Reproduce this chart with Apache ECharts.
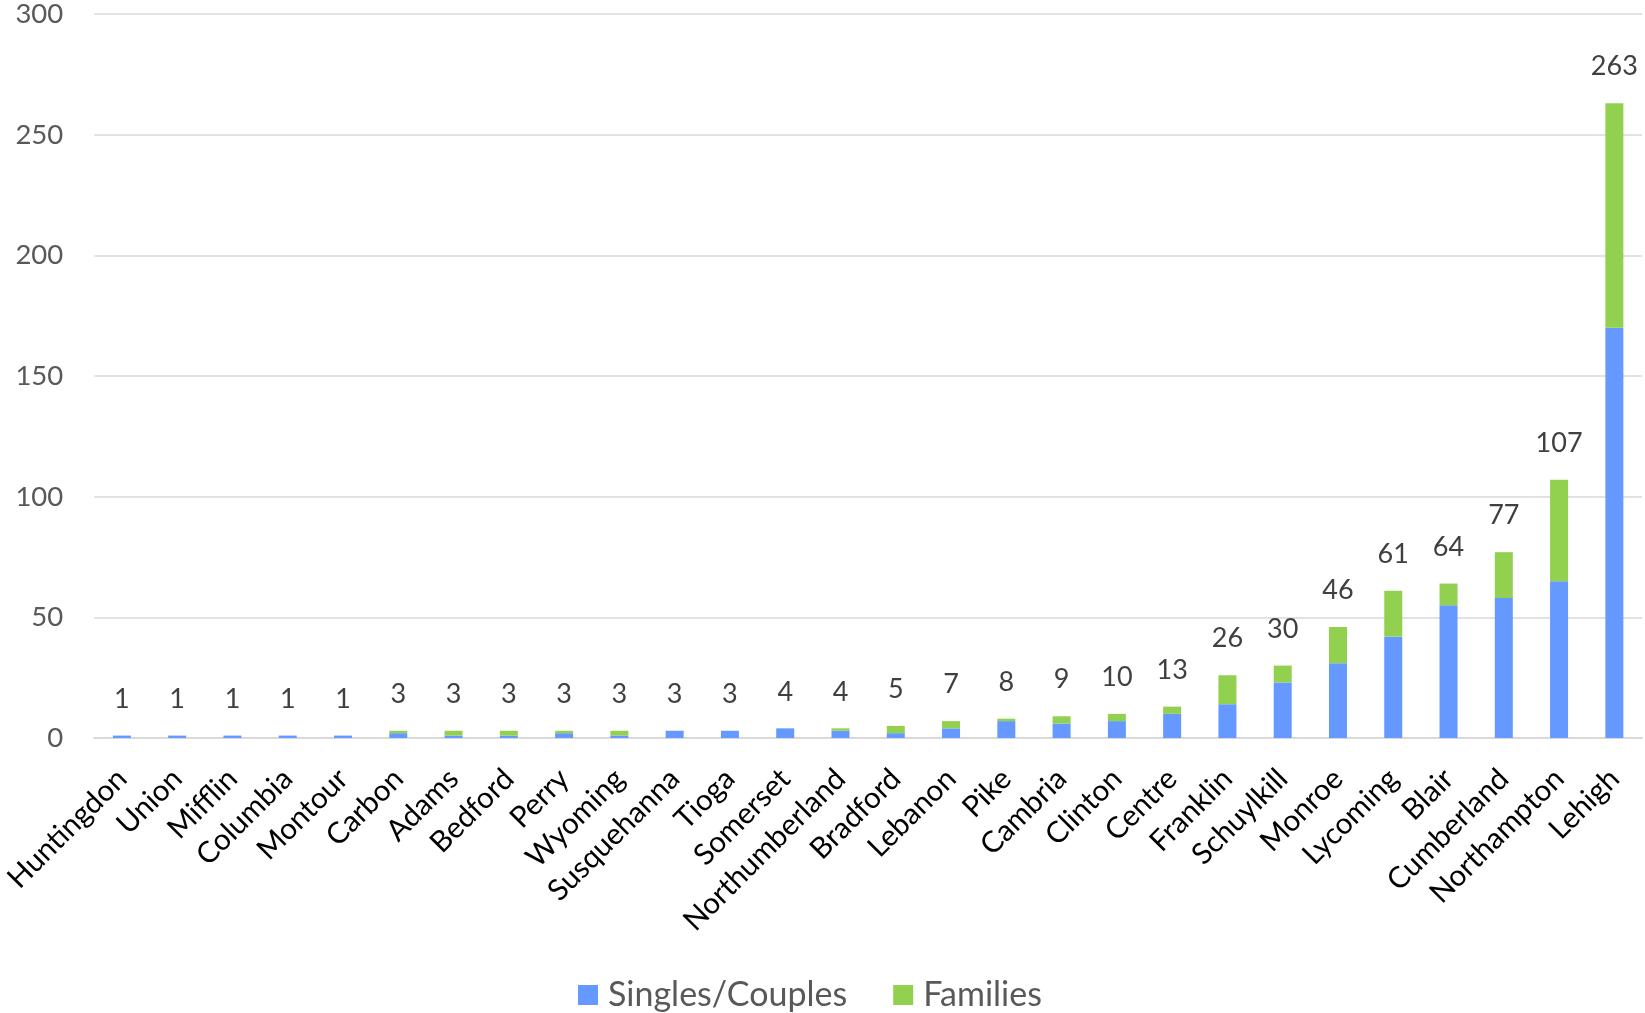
<!DOCTYPE html>
<html>
<head>
<meta charset="utf-8">
<title>Singles/Couples and Families by County</title>
<script src="https://cdn.jsdelivr.net/npm/echarts@6/dist/echarts.min.js"></script>
<style>
  html, body { margin: 0; padding: 0; background: #ffffff; }
  #chart { width: 1645px; height: 1013px; }
</style>
</head>
<body>
<div id="chart"></div>
<script>
// Counties, ordered from smallest to largest total
const counties = [
  'Huntingdon', 'Union', 'Mifflin', 'Columbia', 'Montour', 'Carbon', 'Adams',
  'Bedford', 'Perry', 'Wyoming', 'Susquehanna', 'Tioga', 'Somerset',
  'Northumberland', 'Bradford', 'Lebanon', 'Pike', 'Cambria', 'Clinton',
  'Centre', 'Franklin', 'Schuylkill', 'Monroe', 'Lycoming', 'Blair',
  'Cumberland', 'Northampton', 'Lehigh'
];

// Household counts per county
const singlesCouples = [1, 1, 1, 1, 1, 2, 1, 1, 2, 1, 3, 3, 4, 3, 2, 4, 7, 6, 7, 10, 14, 23, 31, 42, 55, 58, 65, 170];
const families       = [0, 0, 0, 0, 0, 1, 2, 2, 1, 2, 0, 0, 0, 1, 3, 3, 1, 3, 3, 3, 12, 7, 15, 19, 9, 19, 42, 93];

// Value axis ticks
const yTicks = [0, 50, 100, 150, 200, 250, 300];

const totals = singlesCouples.map((v, i) => v + families[i]);

const FONT = 'Lato, "Open Sans", sans-serif';

const chart = echarts.init(document.getElementById('chart'), null, { renderer: 'canvas' });

chart.setOption({
  animation: false,
  backgroundColor: '#ffffff',
  textStyle: { fontFamily: FONT },
  grid: { left: 93, right: 3, top: 14, bottom: 275, containLabel: false },
  legend: {
    data: ['Singles/Couples', 'Families'],
    top: 973,
    left: 573,
    itemWidth: 20,
    itemHeight: 20,
    itemGap: 46,
    icon: 'rect',
    textStyle: { fontSize: 34, color: '#595959', fontFamily: FONT, padding: [0, 0, 0, 5] }
  },
  xAxis: {
    type: 'category',
    data: counties,
    axisLine: { lineStyle: { color: '#d9d9d9', width: 2 } },
    axisTick: { show: false },
    axisLabel: {
      interval: 0,
      rotate: 45,
      margin: 36,
      fontSize: 29.5,
      color: '#000000',
      fontFamily: FONT
    }
  },
  yAxis: {
    type: 'value',
    min: yTicks[0],
    max: yTicks[yTicks.length - 1],
    interval: yTicks[1] - yTicks[0],
    axisLine: { show: false },
    axisTick: { show: false },
    splitLine: { lineStyle: { color: '#d9d9d9', width: 1.5 } },
    axisLabel: { fontSize: 27.5, color: '#595959', margin: 31, fontFamily: FONT }
  },
  series: [
    {
      name: 'Singles/Couples',
      type: 'bar',
      stack: 'households',
      barWidth: 18,
      data: singlesCouples,
      itemStyle: { color: '#6699ff' }
    },
    {
      name: 'Families',
      type: 'bar',
      stack: 'households',
      barWidth: 18,
      data: families,
      itemStyle: { color: '#92d050' },
      label: {
        show: true,
        position: 'top',
        distance: 23,
        fontSize: 27,
        color: '#404040',
        fontFamily: FONT,
        formatter: p => String(totals[p.dataIndex])
      }
    }
  ]
});
</script>
</body>
</html>
